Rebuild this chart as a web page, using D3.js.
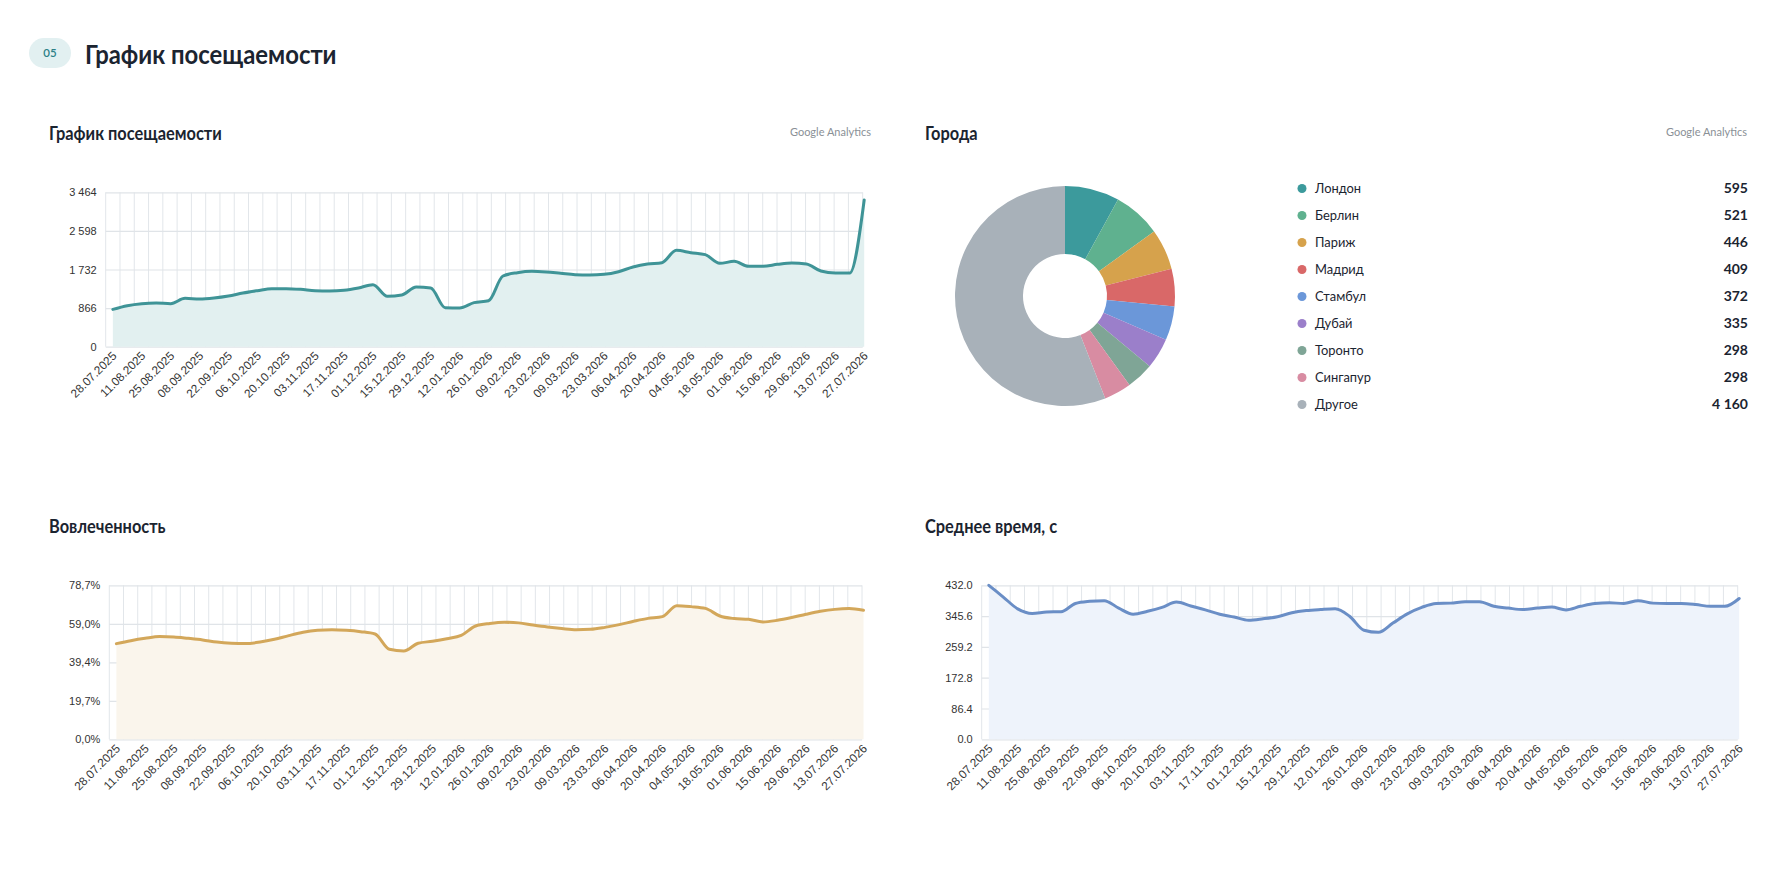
<!DOCTYPE html>
<html><head><meta charset="utf-8">
<script src="https://cdn.jsdelivr.net/npm/d3@7/dist/d3.min.js"></script>
<style>
html,body{margin:0;padding:0;background:#fff;}
svg{display:block;}
</style></head>
<body>
<svg id="c" width="1790" height="895"></svg>
<script>
const weeks = ["28.07.2025","04.08.2025","11.08.2025","18.08.2025","25.08.2025","01.09.2025","08.09.2025","15.09.2025","22.09.2025","29.09.2025","06.10.2025","13.10.2025","20.10.2025","27.10.2025","03.11.2025","10.11.2025","17.11.2025","24.11.2025","01.12.2025","08.12.2025","15.12.2025","22.12.2025","29.12.2025","05.01.2026","12.01.2026","19.01.2026","26.01.2026","02.02.2026","09.02.2026","16.02.2026","23.02.2026","02.03.2026","09.03.2026","16.03.2026","23.03.2026","30.03.2026","06.04.2026","13.04.2026","20.04.2026","27.04.2026","04.05.2026","11.05.2026","18.05.2026","25.05.2026","01.06.2026","08.06.2026","15.06.2026","22.06.2026","29.06.2026","06.07.2026","13.07.2026","20.07.2026","27.07.2026"];
const xTickLabels = ["28.07.2025","11.08.2025","25.08.2025","08.09.2025","22.09.2025","06.10.2025","20.10.2025","03.11.2025","17.11.2025","01.12.2025","15.12.2025","29.12.2025","12.01.2026","26.01.2026","09.02.2026","23.02.2026","09.03.2026","23.03.2026","06.04.2026","20.04.2026","04.05.2026","18.05.2026","01.06.2026","15.06.2026","29.06.2026","13.07.2026","27.07.2026"];

const visits = [838,920,965,980,965,1085,1070,1092,1137,1205,1257,1302,1302,1287,1257,1250,1265,1317,1392,1130,1160,1339,1317,875,868,988,1030,1586,1661,1691,1676,1646,1616,1609,1624,1683,1788,1856,1885,2162,2110,2065,1870,1915,1803,1803,1848,1878,1856,1698,1653,1653,3292];
const visitsTicks = [0,866,1732,2598,3464];

const engagement = [48.9,50.4,51.6,52.5,52.3,51.6,50.8,49.7,49.1,48.9,49.7,51.1,53.0,54.7,55.7,56.0,55.7,55.0,53.8,46.0,45.1,49.1,50.1,51.4,53.1,57.9,59.2,59.8,59.5,58.4,57.4,56.6,56.0,56.2,57.2,58.6,60.3,61.8,62.7,68.3,67.8,66.9,63.0,61.7,61.3,60.0,60.8,62.2,63.9,65.4,66.4,66.8,65.9];
const engagementTicks = [0,19.675,39.35,59.025,78.7];

const avgTime = [432,399,366,353,357,358,381,387,389,368,351,359,370,385,374,363,351,343,334,338,344,355,361,364,366,345,306,300,326,352,370,381,382,386,386,373,368,364,368,371,363,373,381,383,381,389,382,381,381,378,373,373,395];
const avgTimeTicks = [0,86.4,172.8,259.2,345.6,432];

const cities = ["Лондон","Берлин","Париж","Мадрид","Стамбул","Дубай","Торонто","Сингапур","Другое"];
const cityValues = [595,521,446,409,372,335,298,298,4160];
const cityColors = ["#3c9a9c","#5fb18f","#d6a24c","#d96868","#6b97d9","#9b7fca","#7fa596","#d88ca2","#a8b1b9"];

const svg = d3.select("#c");
const TITLE_FONT = "Lato, 'Noto Sans', sans-serif";
const AXIS_FONT = "'Liberation Sans', Arial, sans-serif";

function condense(sel, factor){
  sel.each(function(){
    const w = this.getComputedTextLength();
    d3.select(this).attr("textLength", w*factor).attr("lengthAdjust","spacingAndGlyphs");
  });
}

// Header
svg.append("rect").attr("x",29).attr("y",38).attr("width",42).attr("height",30).attr("rx",15).attr("fill","#e2f0f1");
svg.append("text").attr("x",50).attr("y",57).attr("text-anchor","middle").attr("font-family",TITLE_FONT)
  .attr("font-size",11.5).attr("font-weight",600).attr("fill","#2c8087").text("05");
svg.append("text").attr("x",85).attr("y",64).attr("font-family",TITLE_FONT).attr("font-weight",700)
  .attr("font-size",26.5).attr("fill","#1b2430").text("График посещаемости").call(condense, 0.9);

function panelTitle(x, y, text, rightX, source){
  svg.append("text").attr("x",x).attr("y",y).attr("font-family",TITLE_FONT).attr("font-weight",700)
    .attr("font-size",18).attr("fill","#1b2430").text(text).call(condense, 0.91);
  if (source) svg.append("text").attr("x",rightX).attr("y",y-4).attr("text-anchor","end").attr("font-family",TITLE_FONT)
    .attr("font-size",11).attr("fill","#8a9096").text(source);
}

function lineChart(cfg){
  const g = svg.append("g");
  const band = d3.scaleBand().domain(weeks).range([cfg.x0, cfg.x1]);
  const x = d3.scalePoint().domain(weeks).range([cfg.x0 + band.bandwidth()/2, cfg.x1 + 1.5]);
  const y = d3.scaleLinear().domain([0, cfg.ticks[cfg.ticks.length-1]]).range([cfg.y1, cfg.y0]);

  const edges = weeks.map(w => band(w)).concat([cfg.x1]);
  g.append("g").selectAll("line").data(edges).join("line")
    .attr("x1",d=>d).attr("x2",d=>d).attr("y1",cfg.y0).attr("y2",cfg.y1)
    .attr("stroke","#e2e6ea").attr("stroke-width",1);
  const yGrid = g.append("g").attr("transform",`translate(${cfg.x0},0)`)
    .call(d3.axisLeft(y).tickValues(cfg.ticks).tickSize(-(cfg.x1-cfg.x0)).tickFormat(""));
  yGrid.select(".domain").remove();
  yGrid.selectAll("line").attr("stroke","#e0e4e8").attr("stroke-width",1.2);

  const area = d3.area().x((d,i)=>x(weeks[i])).y0(cfg.y1).y1(d=>y(d)).curve(d3.curveMonotoneX);
  const line = d3.line().x((d,i)=>x(weeks[i])).y(d=>y(d)).curve(d3.curveMonotoneX);
  g.append("path").datum(cfg.values).attr("d",area).attr("fill",cfg.areaColor);
  g.append("path").datum(cfg.values).attr("d",line).attr("fill","none").attr("stroke",cfg.color)
    .attr("stroke-width",3).attr("stroke-linejoin","round").attr("stroke-linecap","round");

  const yAx = g.append("g").attr("transform",`translate(${cfg.x0 - 9},0)`)
    .call(d3.axisLeft(y).tickValues(cfg.ticks).tickSize(0).tickPadding(0).tickFormat(cfg.fmt));
  yAx.select(".domain").remove();
  yAx.selectAll("text").attr("font-family",AXIS_FONT).attr("font-size",11).attr("fill","#333");

  const xAx = g.append("g").attr("transform",`translate(0,${cfg.y1})`)
    .call(d3.axisBottom(x).tickValues(xTickLabels).tickSize(0).tickPadding(0));
  xAx.select(".domain").remove();
  xAx.selectAll("text").attr("font-family",AXIS_FONT).attr("font-size",11.8).attr("fill","#333")
    .attr("text-anchor","end").attr("dy",0).attr("y",0)
    .attr("transform","translate(4,10) rotate(-45)");
}

const fmtSpace = d => d3.format(",")(d).replace(/,/g, "\u00a0");
const fmtPct = d => d3.format(".1f")(d).replace(".", ",") + "%";
const fmtDec = d => d3.format(".1f")(d);

panelTitle(49, 140, "График посещаемости", 871, "Google Analytics");
lineChart({x0:105.7, x1:862.7, y0:192.3, y1:346.7, values:visits, ticks:visitsTicks, fmt:fmtSpace,
  color:"#3f9497", areaColor:"#e2f0f0"});

panelTitle(49, 533, "Вовлеченность");
lineChart({x0:109.3, x1:862, y0:585.3, y1:739.3, values:engagement, ticks:engagementTicks, fmt:fmtPct,
  color:"#d3a75a", areaColor:"#faf5ec"});

panelTitle(925, 533, "Среднее время, с");
lineChart({x0:981.7, x1:1737.7, y0:585.3, y1:739.3, values:avgTime, ticks:avgTimeTicks, fmt:fmtDec,
  color:"#6a8ec6", areaColor:"#eef3fb"});

// Donut
panelTitle(925, 140, "Города", 1747, "Google Analytics");
const pie = d3.pie().sort(null).value(d=>d)(cityValues);
const arc = d3.arc().innerRadius(42).outerRadius(110);
const pg = svg.append("g").attr("transform","translate(1065,296)");
pg.selectAll("path").data(pie).join("path").attr("d",arc).attr("fill",(d,i)=>cityColors[i]);

// Legend
const rowY = d3.scalePoint().domain(cities).range([188.5, 404.5]);
const lg = svg.append("g");
cities.forEach((c,i)=>{
  const yy = rowY(c);
  lg.append("circle").attr("cx",1302).attr("cy",yy).attr("r",4.5).attr("fill",cityColors[i]);
  lg.append("text").attr("x",1315).attr("y",yy+4.5).attr("font-family",TITLE_FONT).attr("font-size",14)
    .attr("fill","#1b2430").text(c).call(condense, 0.92);
  lg.append("text").attr("x",1748).attr("y",yy+4.5).attr("text-anchor","end").attr("font-family",TITLE_FONT)
    .attr("font-size",14).attr("font-weight",700).attr("fill","#1b2430").text(fmtSpace(cityValues[i]));
});
</script>
</body></html>
